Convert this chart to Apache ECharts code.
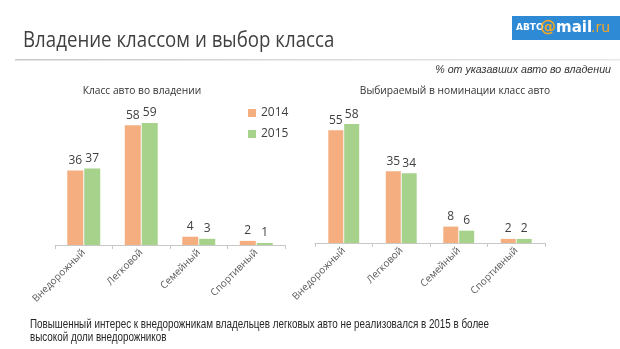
<!DOCTYPE html>
<html><head><meta charset="utf-8">
<script src="https://cdn.jsdelivr.net/npm/echarts@6/dist/echarts.min.js"></script>
<style>html,body{margin:0;padding:0;background:#fff}#c{width:620px;height:349px}</style>
</head><body><div id="c"></div>
<script>
const categories = ['Внедорожный', 'Легковой', 'Семейный', 'Спортивный'];
const seriesNames = ['2014', '2015'];
const owned2014 = [36, 58, 4, 2];
const owned2015 = [37, 59, 3, 1];
const chosen2014 = [55, 35, 8, 2];
const chosen2015 = [58, 34, 6, 2];
const chartTitles = ['Класс авто во владении', 'Выбираемый в номинации класс авто'];

const ORANGE = '#F4AE80', GREEN = '#A6D28C';
const chart = echarts.init(document.getElementById('c'), null, {renderer: 'canvas'});
const font = '"Open Sans", sans-serif';
function xAx(idx) {
  return {
    type: 'category', gridIndex: idx, data: categories,
    axisLine: {lineStyle: {color: '#c8c8c8'}},
    axisTick: {show: true, length: 4, lineStyle: {color: '#c8c8c8'}},
    axisLabel: {rotate: 45, fontSize: 10, color: '#595959', fontFamily: font, margin: 6, interval: 0}
  };
}
function yAx(idx) {
  return {type: 'value', gridIndex: idx, min: 0, max: 60, show: false, splitLine: {show: false}};
}
const lbl = {show: true, position: 'top', fontSize: 12, color: '#404040', fontFamily: font, distance: 4};
function bar(name, data, idx, color, w) {
  return {name: name, type: 'bar', xAxisIndex: idx, yAxisIndex: idx, data: data, barWidth: w,
    barGap: '6%', itemStyle: {color: color}, label: lbl, silent: true};
}
chart.setOption({
  animation: false,
  backgroundColor: '#fff',
  grid: [
    {left: 55, width: 230, top: 121, bottom: 104},
    {left: 315, width: 230, top: 120, bottom: 106}
  ],
  xAxis: [xAx(0), xAx(1)],
  yAxis: [yAx(0), yAx(1)],
  legend: {
    data: seriesNames, orient: 'vertical', left: 243, top: 102, itemWidth: 8, itemHeight: 8,
    itemGap: 9, icon: 'rect', textStyle: {fontSize: 12, color: '#404040', fontFamily: font}
  },
  graphic: [
    {type: 'text', x: 142, y: 91, scaleX: 0.93, style: {text: chartTitles[0], fontSize: 11,
      fontFamily: font, fill: '#333', align: 'center', verticalAlign: 'middle'}},
    {type: 'text', x: 455, y: 91, scaleX: 0.93, style: {text: chartTitles[1], fontSize: 11,
      fontFamily: font, fill: '#333', align: 'center', verticalAlign: 'middle'}},
    {type: 'text', x: 23, y: 41, scaleX: 0.89, style: {text: 'Владение классом и выбор класса',
      fontSize: 21, fontFamily: font, fill: '#404040', verticalAlign: 'middle'}},
    {type: 'rect', shape: {x: 15, y: 59, width: 605, height: 1.5},
      style: {fill: new echarts.graphic.LinearGradient(0, 0, 1, 0, [
        {offset: 0, color: '#c8c8c8'}, {offset: 0.5, color: '#dadada'}, {offset: 1, color: '#e8e8e8'}])}},
    {type: 'rect', shape: {x: 512, y: 16, width: 108, height: 24}, style: {fill: '#2F8AD6'}},
    {type: 'text', x: 516, y: 28, style: {text: 'АВТО', fontSize: 9, fontWeight: 'bold',
      fontFamily: '"DejaVu Sans", sans-serif', fill: '#fff', verticalAlign: 'middle'}},
    {type: 'text', x: 540, y: 28, style: {text: '@', fontSize: 16, fontWeight: 'bold',
      fontFamily: '"DejaVu Sans", sans-serif', fill: '#F5A623', verticalAlign: 'middle'}},
    {type: 'text', x: 556, y: 28, style: {text: 'mail', fontSize: 15, fontWeight: 'bold',
      fontFamily: '"DejaVu Sans", sans-serif', fill: '#fff', verticalAlign: 'middle'}},
    {type: 'text', x: 591, y: 28, style: {text: '.ru', fontSize: 14,
      fontFamily: '"DejaVu Sans", sans-serif', fill: '#F5A623', verticalAlign: 'middle'}},
    {type: 'text', x: 611, y: 70, scaleX: 0.97, style: {text: '% от указавших авто во владении',
      fontSize: 11, fontStyle: 'italic', fontFamily: '"Liberation Sans", sans-serif', fill: '#333',
      align: 'right', verticalAlign: 'middle'}},
    {type: 'text', x: 30, y: 318, scaleX: 0.82, style: {
      text: 'Повышенный интерес к внедорожникам владельцев легковых авто не реализовался в 2015 в более\nвысокой доли внедорожников',
      fontSize: 12, lineHeight: 13, fontFamily: '"Liberation Sans", sans-serif', fill: '#262626'}}
  ],
  series: [
    bar(seriesNames[0], owned2014, 0, ORANGE, 16),
    bar(seriesNames[1], owned2015, 0, GREEN, 16),
    bar(seriesNames[0], chosen2014, 1, ORANGE, 15),
    bar(seriesNames[1], chosen2015, 1, GREEN, 15)
  ]
});
</script></body></html>
